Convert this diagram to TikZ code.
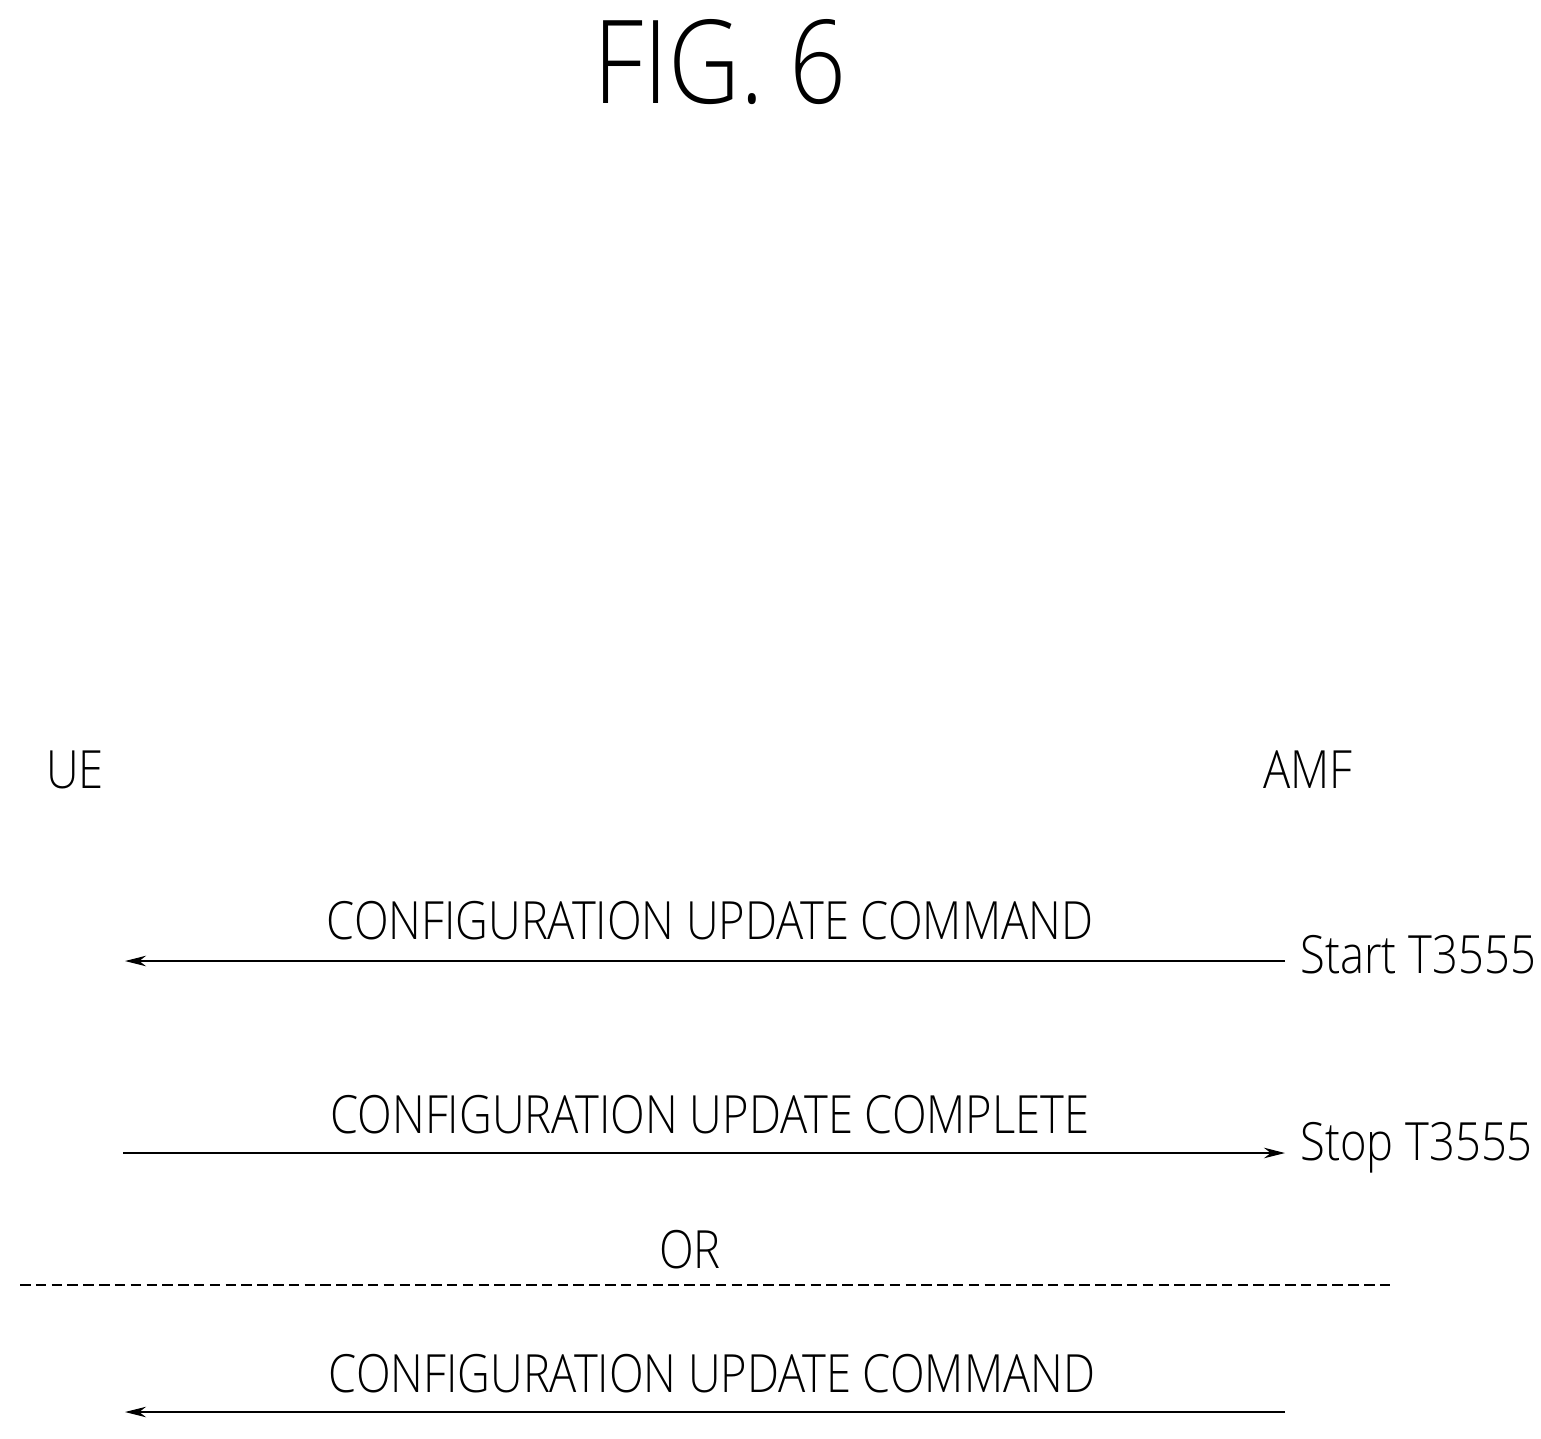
\documentclass[tikz,border=0pt]{standalone}
\usepackage{fontspec}
\setmainfont{Open Sans}[UprightFont=* Light,FakeStretch=0.86]
\usetikzlibrary{arrows.meta}
\begin{document}
\begin{tikzpicture}[x=0.02cm,y=-0.02cm,
  lbl/.style={font=\fontsize{30}{36}\selectfont,inner sep=0pt},
  msg/.style={line width=0.6pt,-{Stealth[length=12pt,width=6pt]}}]
\useasboundingbox (0,0) rectangle (1541,1439);
\node[inner sep=0pt,font=\fontsize{66}{70}\selectfont] (fig) at (720,62) {FIG. 6};
\node[lbl] (ue) at (75,770) {UE};
\node[lbl] (amf) at (1308,770) {AMF};
\coordinate (a1) at (1285,961); \coordinate (u1) at (125,961);
\coordinate (u2) at (123,1153); \coordinate (a2) at (1285,1153);
\coordinate (a3) at (1285,1412); \coordinate (u3) at (125,1412);
\coordinate (d1) at (20,1285); \coordinate (d2) at (1390,1285);
\draw[msg] (a1) -- (u1);
\draw[msg] (u2) -- (a2);
\draw[msg] (a3) -- (u3);
\draw[line width=0.8pt,dash pattern=on 6pt off 3pt] (d1) -- (d2);
\node[lbl] (m1) at (710,921) {CONFIGURATION UPDATE COMMAND};
\node[lbl] (m2) at (710,1115) {CONFIGURATION UPDATE COMPLETE};
\node[lbl] (m3) at (712,1374) {CONFIGURATION UPDATE COMMAND};
\node[lbl,anchor=west] (s1) at (1300,955) {Start T3555};
\node[lbl,anchor=west] (s2) at (1300,1148) {Stop T3555};
\node[lbl] (or) at (690,1250) {OR};
\end{tikzpicture}
\end{document}
